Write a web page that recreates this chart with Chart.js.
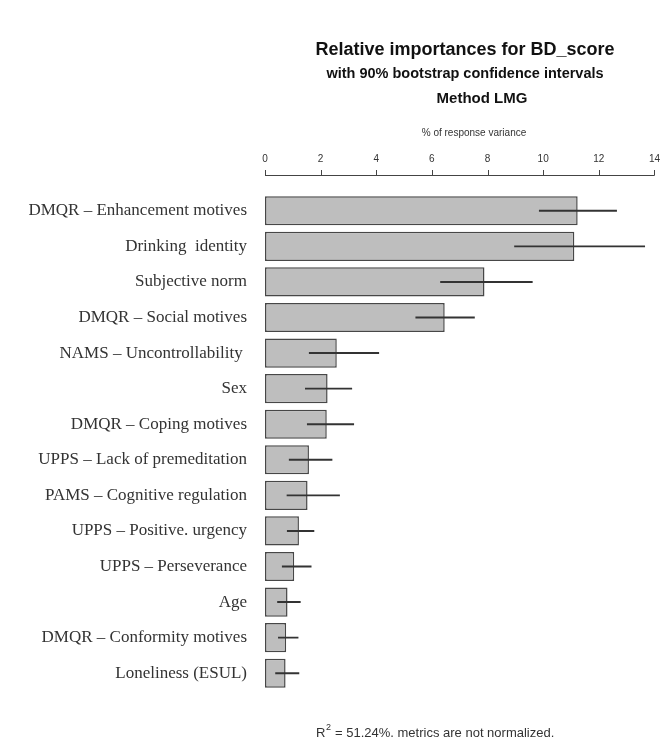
<!DOCTYPE html>
<html>
<head>
<meta charset="utf-8">
<script src="https://cdn.jsdelivr.net/npm/chart.js@4.4.0/dist/chart.umd.min.js"></script>
<style>
  html, body { margin: 0; padding: 0; background: #fff; }
  #wrap { width: 660px; height: 738px; }
</style>
</head>
<body>
<div id="wrap"><canvas id="bar-chart" width="660" height="738"></canvas></div>
<script>
// predictors, top to bottom
var labels = [
  "DMQR \u2013 Enhancement motives",
  "Drinking  identity",
  "Subjective norm",
  "DMQR \u2013 Social motives",
  "NAMS \u2013 Uncontrollability ",
  "Sex",
  "DMQR \u2013 Coping motives",
  "UPPS \u2013 Lack of premeditation",
  "PAMS \u2013 Cognitive regulation",
  "UPPS \u2013 Positive. urgency",
  "UPPS \u2013 Perseverance",
  "Age",
  "DMQR \u2013 Conformity motives",
  "Loneliness (ESUL)"
];
// LMG relative importance (% of response variance)
var lmg =     [11.24, 11.12, 7.89, 6.46, 2.58, 2.25, 2.22, 1.58, 1.53, 1.22, 1.05, 0.81, 0.76, 0.74];
// 90% bootstrap CI bounds
var ciLower = [9.86, 8.97, 6.31, 5.42, 1.59, 1.45, 1.52, 0.87, 0.79, 0.80, 0.62, 0.45, 0.48, 0.38];
var ciUpper = [12.64, 13.65, 9.61, 7.53, 4.09, 3.12, 3.19, 2.41, 2.68, 1.76, 1.66, 1.27, 1.19, 1.22];
var xTicks = [0, 2, 4, 6, 8, 10, 12, 14];

var ciData = [];
for (var i = 0; i < labels.length; i++) {
  ciData.push([ciLower[i], ciUpper[i]]);
}

var SANS = "'Liberation Sans', Arial, sans-serif";

// texts and the detached top axis (R style: axis sits above the bars)
var decorPlugin = {
  id: 'decor',
  afterDraw: function (chart) {
    var ctx = chart.ctx;
    var area = chart.chartArea;
    var xs = chart.scales.x;
    var axisY = area.top - 18;
    ctx.save();
    ctx.strokeStyle = '#444';
    ctx.lineWidth = 1;
    ctx.beginPath();
    ctx.moveTo(xs.getPixelForValue(xTicks[0]), axisY + 0.5);
    ctx.lineTo(xs.getPixelForValue(xTicks[xTicks.length - 1]), axisY + 0.5);
    for (var t = 0; t < xTicks.length; t++) {
      var px = Math.round(xs.getPixelForValue(xTicks[t])) + 0.5;
      ctx.moveTo(px, axisY + 0.5);
      ctx.lineTo(px, axisY - 5);
    }
    ctx.stroke();

    ctx.fillStyle = '#111';
    ctx.textAlign = 'center';
    ctx.textBaseline = 'middle';
    ctx.font = 'bold 18px ' + SANS;
    ctx.fillText('Relative importances for BD_score', 465, 50);
    ctx.font = 'bold 14.5px ' + SANS;
    ctx.fillText('with 90% bootstrap confidence intervals', 465, 74);
    ctx.font = 'bold 15px ' + SANS;
    ctx.fillText('Method LMG', 482, 99);
    ctx.fillStyle = '#333';
    ctx.font = '10px ' + SANS;
    ctx.fillText('% of response variance', 474, 133);

    // footer: R^2 note
    ctx.font = '13px ' + SANS;
    ctx.textAlign = 'left';
    ctx.textBaseline = 'alphabetic';
    var fx = 316, fy = 737;
    ctx.fillText('R', fx, fy);
    var w = ctx.measureText('R').width;
    ctx.font = '9px ' + SANS;
    ctx.fillText('2', fx + w + 0.5, fy - 7);
    var w2 = ctx.measureText('2').width;
    ctx.font = '13px ' + SANS;
    ctx.fillText(' = 51.24%. metrics are not normalized.', fx + w + w2 + 1, fy);
    ctx.restore();
  }
};

new Chart(document.getElementById('bar-chart'), {
  type: 'bar',
  data: {
    labels: labels,
    datasets: [
      {
        label: 'CI',
        data: ciData,
        backgroundColor: '#333',
        borderWidth: 0,
        barThickness: 1.3,
        grouped: false,
        order: 0
      },
      {
        label: 'LMG',
        data: lmg,
        backgroundColor: '#bebebe',
        borderColor: '#474747',
        borderWidth: 1.5,
        borderSkipped: false,
        barPercentage: 0.82,
        categoryPercentage: 1,
        grouped: false,
        order: 1
      }
    ]
  },
  options: {
    indexAxis: 'y',
    responsive: false,
    animation: false,
    layout: { padding: { top: 0, left: 0, right: 5, bottom: 47 } },
    plugins: {
      legend: { display: false },
      tooltip: { enabled: false }
    },
    scales: {
      x: {
        position: 'top',
        min: 0,
        max: 14,
        afterFit: function (s) { s.height = 193; },
        afterBuildTicks: function (s) {
          s.ticks = xTicks.map(function (v) { return { value: v }; });
        },
        grid: { display: false, drawTicks: true, tickLength: 28 },
        border: { display: false },
        ticks: {
          color: '#333',
          font: { family: SANS, size: 10 },
          padding: 0,
          maxRotation: 0
        }
      },
      y: {
        afterFit: function (s) { s.width = 265; },
        grid: { display: false, drawTicks: false },
        border: { display: false },
        ticks: {
          color: '#333',
          font: { family: "'Liberation Serif', 'Times New Roman', serif", size: 17 },
          padding: 18,
          autoSkip: false
        }
      }
    }
  },
  plugins: [decorPlugin]
});
</script>
</body>
</html>
